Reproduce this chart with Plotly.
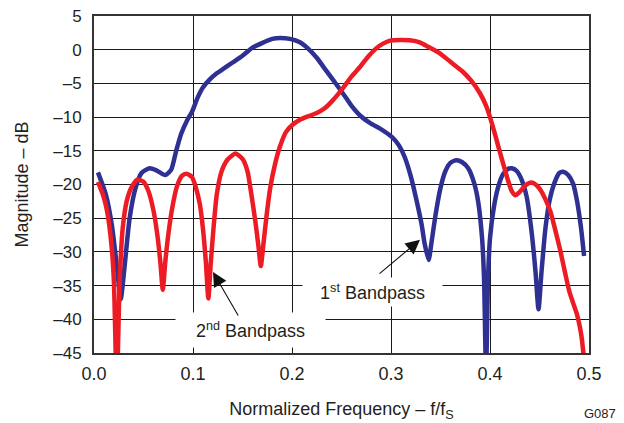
import plotly.graph_objects as go

# 1st Bandpass (blue)
blue_f = [0.004, 0.012, 0.018, 0.023, 0.027, 0.031, 0.036, 0.042, 0.048, 0.056, 0.063, 0.072,
          0.078, 0.083, 0.088, 0.094, 0.099, 0.105, 0.110, 0.117, 0.124, 0.132, 0.140, 0.150,
          0.160, 0.170, 0.180, 0.188, 0.198, 0.208, 0.216, 0.225, 0.233, 0.242, 0.252, 0.260,
          0.269, 0.279, 0.289, 0.296, 0.302, 0.308, 0.314, 0.320, 0.326, 0.331, 0.334, 0.338,
          0.341, 0.345, 0.350, 0.355, 0.360, 0.366, 0.372, 0.378, 0.384, 0.388, 0.392, 0.394,
          0.396, 0.398, 0.400, 0.404, 0.408, 0.413, 0.418, 0.422, 0.427, 0.432, 0.437, 0.442,
          0.446, 0.449, 0.452, 0.456, 0.460, 0.465, 0.470, 0.474, 0.479, 0.484, 0.488, 0.492,
          0.495]
blue_db = [-18.2, -21.5, -26.0, -32.0, -37.0, -32.0, -25.0, -20.5, -18.3, -17.6, -17.9, -18.6,
           -17.8, -15.0, -12.5, -10.5, -9.2, -7.0, -5.6, -4.4, -3.5, -2.7, -1.9, -0.9,
           0.3, 1.0, 1.6, 1.75, 1.6, 1.1, 0.2, -1.2, -2.8, -4.6, -6.6, -8.3,
           -9.8, -10.9, -11.7, -12.4, -13.1, -14.2, -16.0, -18.8, -22.5, -26.0, -28.8, -31.2,
           -28.5, -24.5, -20.5, -18.0, -16.8, -16.4, -16.7, -17.6, -19.8, -22.5, -28.0, -34.0,
           -48.0, -34.0, -28.0, -23.3, -20.5, -18.5, -17.7, -17.6, -18.0, -19.3, -21.8, -27.0,
           -33.0, -38.5, -33.0, -26.5, -22.5, -19.8, -18.3, -18.1, -18.6, -19.9, -22.5, -26.5,
           -30.6]

# 2nd Bandpass (red)
red_f = [0.004, 0.009, 0.013, 0.017, 0.020, 0.023, 0.026, 0.029, 0.033, 0.038, 0.044, 0.050,
         0.055, 0.060, 0.064, 0.067, 0.0695, 0.072, 0.075, 0.079, 0.084, 0.089, 0.0935, 0.099,
         0.103, 0.107, 0.110, 0.113, 0.1155, 0.118, 0.121, 0.124, 0.129, 0.135, 0.143, 0.150,
         0.155, 0.159, 0.163, 0.166, 0.1685, 0.171, 0.174, 0.178, 0.183, 0.188, 0.194, 0.200,
         0.208, 0.216, 0.225, 0.233, 0.240, 0.246, 0.252, 0.260, 0.269, 0.277, 0.285, 0.292,
         0.299, 0.309, 0.319, 0.329, 0.338, 0.349, 0.360, 0.372, 0.381, 0.390, 0.396, 0.400,
         0.404, 0.407, 0.410, 0.4135, 0.418, 0.422, 0.4255, 0.430, 0.436, 0.442, 0.447, 0.451,
         0.456, 0.461, 0.466, 0.471, 0.476, 0.480, 0.484, 0.4875, 0.490, 0.4925, 0.495]
red_db = [-19.6, -21.5, -23.8, -28.0, -34.0, -50.0, -34.0, -26.5, -22.5, -20.4, -19.3, -19.6,
          -21.0, -23.8, -27.5, -31.5, -35.6, -31.5, -27.5, -23.5, -20.2, -18.7, -18.4, -18.9,
          -20.5, -23.0, -26.5, -31.5, -36.9, -31.5, -26.0, -21.5, -18.0, -16.3, -15.4, -16.2,
          -18.0, -21.5, -25.5, -29.0, -32.1, -29.0, -25.0, -20.5, -16.9, -14.3, -12.2, -11.2,
          -10.4, -9.9, -9.4, -8.7, -7.7, -6.7, -5.6, -4.0, -2.5, -1.0, 0.2, 0.9,
          1.35, 1.45, 1.4, 1.1, 0.4, -0.5, -1.8, -3.2, -4.6, -6.5, -8.3, -10.0,
          -12.0, -13.6, -15.2, -17.0, -19.3, -21.0, -21.6, -21.1, -20.1, -19.7, -20.1, -20.8,
          -22.2, -24.0, -26.8, -29.8, -33.2, -35.8, -37.6, -39.1, -40.6, -42.6, -46.0]

x_ticks = [0.0, 0.1, 0.2, 0.3, 0.4, 0.5]
x_ticktext = ["0.0", "0.1", "0.2", "0.3", "0.4", "0.5"]
y_ticks = [5, 0, -5, -10, -15, -20, -25, -30, -35, -40, -45]
y_ticktext = ["5", "0", "–5", "–10", "–15", "–20", "–25", "–30", "–35", "–40", "–45"]

FONT = "Liberation Sans, Arial, sans-serif"
TXT = "#231F20"

fig = go.Figure()
fig.add_trace(go.Scatter(x=blue_f, y=blue_db, mode="lines",
                         line=dict(color="#2E3192", width=4.5, shape="spline", smoothing=0.6),
                         showlegend=False, hoverinfo="skip"))
fig.add_trace(go.Scatter(x=red_f, y=red_db, mode="lines",
                         line=dict(color="#ED1C24", width=4.5, shape="spline", smoothing=0.6),
                         showlegend=False, hoverinfo="skip"))

fig.update_layout(
    width=624, height=423,
    margin=dict(l=94, r=35, t=16, b=70),
    paper_bgcolor="white", plot_bgcolor="white",
    font=dict(family=FONT, size=17, color=TXT),
    xaxis=dict(range=[0, 0.5], tickvals=x_ticks, ticktext=x_ticktext,
               showgrid=True, gridcolor="#1a1a1a", gridwidth=1,
               showline=True, linecolor="#333", linewidth=2, mirror=True,
               zeroline=False, ticks="", fixedrange=True, automargin=False,
               tickfont=dict(size=18), ticklabelstandoff=3,
               title=dict(text="Normalized Frequency – f/f<sub>S</sub>", standoff=20,
                          font=dict(size=18))),
    yaxis=dict(range=[-45, 5], tickvals=y_ticks, ticktext=y_ticktext,
               showgrid=True, gridcolor="#1a1a1a", gridwidth=1,
               showline=True, linecolor="#333", linewidth=2, mirror=True,
               zeroline=False, ticks="", fixedrange=True, automargin=False,
               tickfont=dict(size=17), ticklabelstandoff=7,
               title=dict(text="Magnitude – dB", standoff=20, font=dict(size=18))),
)

# Label boxes (white background hides gridlines)
fig.add_annotation(x=0.2813, y=-35.95, xref="x", yref="y", showarrow=False,
                   text="1<sup>st</sup> Bandpass", bgcolor="white",
                   width=135, height=24, borderpad=2, font=dict(size=18, color=TXT))
fig.add_annotation(x=0.158, y=-41.6, xref="x", yref="y", showarrow=False,
                   text="2<sup>nd</sup> Bandpass", bgcolor="white",
                   width=145, height=30, borderpad=2, font=dict(size=18, color=TXT))

# Arrows
fig.add_annotation(x=0.1202, y=-32.98, ax=0.1465, ay=-39.66, xref="x", yref="y",
                   axref="x", ayref="y", text="", showarrow=True,
                   arrowhead=2, arrowsize=2.6, arrowwidth=1.1, arrowcolor="#111")
fig.add_annotation(x=0.3293, y=-28.2, ax=0.2869, ay=-33.4, xref="x", yref="y",
                   axref="x", ayref="y", text="", showarrow=True,
                   arrowhead=2, arrowsize=2.6, arrowwidth=1.1, arrowcolor="#111")

fig.add_annotation(x=1.022, y=-0.181, xref="paper", yref="paper", text="G087",
                   showarrow=False, xanchor="center", yanchor="middle",
                   font=dict(size=13, color=TXT))

fig.write_html("out.html", config={"displayModeBar": False},
               post_script="document.body.style.margin='0';")
